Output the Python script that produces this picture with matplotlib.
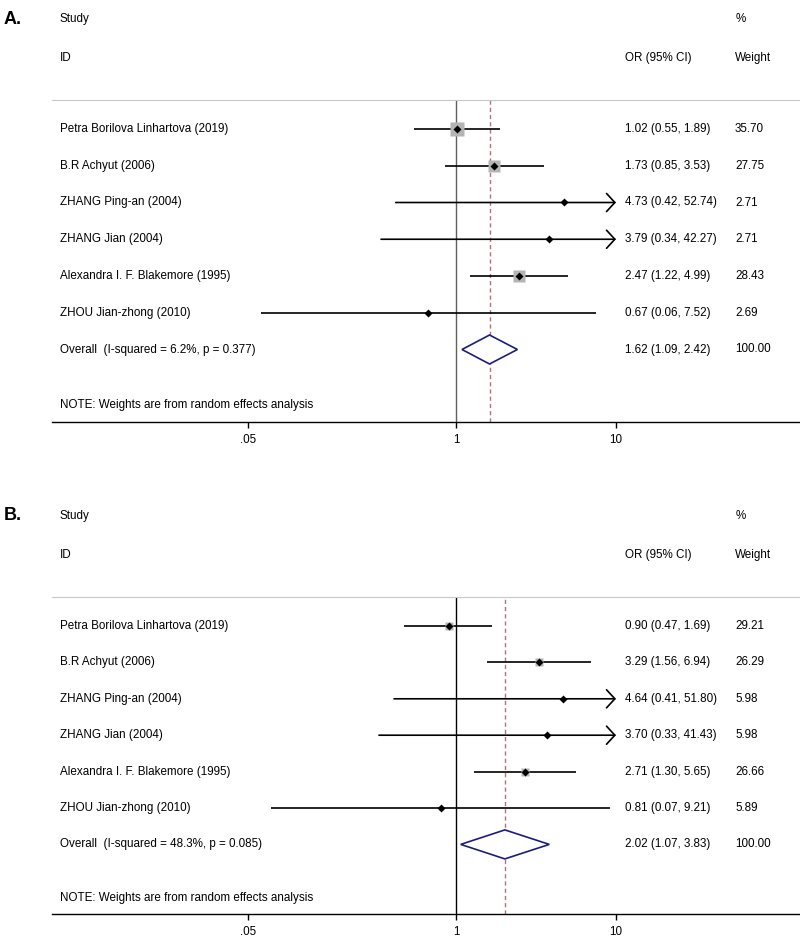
import matplotlib.pyplot as plt
from matplotlib.ticker import NullLocator

plt.rcParams['font.family'] = ['Liberation Sans', 'DejaVu Sans']

W, H = 800, 944

# data
studies = ['Petra Borilova Linhartova (2019)', 'B.R Achyut (2006)', 'ZHANG Ping-an (2004)',
           'ZHANG Jian (2004)', 'Alexandra I. F. Blakemore (1995)', 'ZHOU Jian-zhong (2010)']

or_a = [1.02, 1.73, 4.73, 3.79, 2.47, 0.67]
lo_a = [0.55, 0.85, 0.42, 0.34, 1.22, 0.06]
hi_a = [1.89, 3.53, 52.74, 42.27, 4.99, 7.52]
wt_a = [35.70, 27.75, 2.71, 2.71, 28.43, 2.69]
overall_a = [1.62, 1.09, 2.42]
isq_a, p_a = 6.2, 0.377

or_b = [0.90, 3.29, 4.64, 3.70, 2.71, 0.81]
lo_b = [0.47, 1.56, 0.41, 0.33, 1.30, 0.07]
hi_b = [1.69, 6.94, 51.80, 41.43, 5.65, 9.21]
wt_b = [29.21, 26.29, 5.98, 5.98, 26.66, 5.89]
overall_b = [2.02, 1.07, 3.83]
isq_b, p_b = 48.3, 0.085

xticks = [0.05, 1, 10]
xticklabels = ['.05', '1', '10']

fig = plt.figure(figsize=(W / 100, H / 100), dpi=100)
FS = 8.4


def fx(px):
    return px / W


def fy(py):
    return 1 - py / H


def panel(letter, ors, los, his, wts, overall, isq, p, top, rule, row0, step, note_y, axis_y,
          box_k, ref_col):
    # header
    fig.text(fx(4), fy(top), letter, fontsize=13, fontweight='bold', va='center')
    fig.text(fx(60), fy(top), 'Study', fontsize=FS, va='center')
    fig.text(fx(60), fy(top + 39), 'ID', fontsize=FS, va='center')
    fig.text(fx(736), fy(top), '%', fontsize=FS, va='center')
    fig.text(fx(625), fy(top + 39), 'OR (95% CI)', fontsize=FS, va='center')
    fig.text(fx(735), fy(top + 39), 'Weight', fontsize=FS, va='center')

    ax = fig.add_axes([fx(52), fy(axis_y), fx(800 - 52), (axis_y - rule) / H])
    ax.set_xscale('log')
    ax.set_xlim(10 ** ((52 - 456) / 160), 10 ** ((800 - 456) / 160))
    ax.set_ylim(axis_y, rule)
    for s in ['left', 'right']:
        ax.spines[s].set_visible(False)
    ax.spines['top'].set_color('#c8c8c8')
    ax.spines['bottom'].set_linewidth(1.0)
    ax.set_yticks([])
    ax.set_xticks(xticks)
    ax.set_xticklabels(xticklabels, fontsize=FS)
    ax.xaxis.set_minor_locator(NullLocator())
    ax.tick_params(axis='x', length=4.5, width=1, pad=4)

    ax.axvline(1, color=ref_col, lw=1.0)
    ax.axvline(overall[0], color='#b5707c', lw=1.0, ls=(0, (3, 2.2)))

    clip = xticks[-1]
    for i in range(len(ors)):
        y = row0 + i * step
        if his[i] > clip:
            # CI runs off the scale: open arrow at the last tick
            ax.annotate('', xy=(clip, y), xytext=(los[i], y),
                        arrowprops=dict(arrowstyle='->,head_length=0.6,head_width=0.65',
                                        lw=1.2, color='black', shrinkA=0, shrinkB=0))
        else:
            ax.plot([los[i], his[i]], [y, y], color='black', lw=1.2, solid_capstyle='butt')
        ax.plot(ors[i], y, marker='s', ms=box_k * wts[i] ** 0.5, color='#b4b4b4', mec='none')
        ax.plot(ors[i], y, marker='D', ms=3.6, color='black', mec='none')
        fig.text(fx(60), fy(y), studies[i], fontsize=FS, va='center')
        fig.text(fx(625), fy(y), '%.2f (%.2f, %.2f)' % (ors[i], los[i], his[i]), fontsize=FS, va='center')
        fig.text(fx(735), fy(y), '%.2f' % wts[i], fontsize=FS, va='center')

    # overall diamond
    yo = row0 + len(ors) * step
    es, lo, hi = overall
    ax.fill([lo, es, hi, es, lo], [yo, yo - 14.5, yo, yo + 14.5, yo], facecolor='white',
            edgecolor='#1c1c80', lw=1.2, zorder=3)
    fig.text(fx(60), fy(yo), 'Overall  (I-squared = %.1f%%, p = %.3f)' % (isq, p), fontsize=FS, va='center')
    fig.text(fx(625), fy(yo), '%.2f (%.2f, %.2f)' % (es, lo, hi), fontsize=FS, va='center')
    fig.text(fx(735), fy(yo), '100.00', fontsize=FS, va='center')
    fig.text(fx(60), fy(note_y), 'NOTE: Weights are from random effects analysis', fontsize=FS, va='center')


panel('A.', or_a, lo_a, hi_a, wt_a, overall_a, isq_a, p_a,
      top=19, rule=100, row0=129, step=36.75, note_y=405, axis_y=422, box_k=1.57, ref_col='#606060')
panel('B.', or_b, lo_b, hi_b, wt_b, overall_b, isq_b, p_b,
      top=516, rule=597, row0=626, step=36.4, note_y=898, axis_y=914, box_k=1.11, ref_col='black')

fig.savefig('out.png', dpi=100)
